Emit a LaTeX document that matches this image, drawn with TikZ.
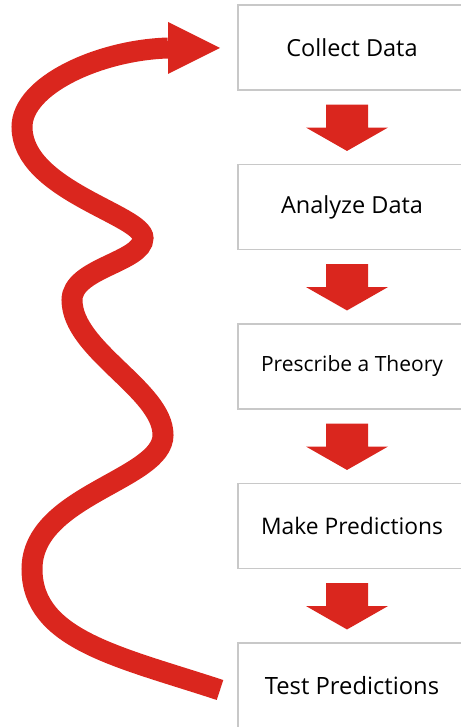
\documentclass[tikz,border=0pt]{standalone}
\usepackage{fontspec}
\setmainfont{Open Sans}
\usetikzlibrary{calc}
\definecolor{cyclered}{RGB}{218,38,30}
\definecolor{boxline}{RGB}{200,200,200}
\tikzset{
  stagebox/.style={draw=boxline, line width=1.1pt, fill=white, rectangle,
    minimum width=228pt, minimum height=85pt, inner sep=0pt,
    font=\fontsize{23.5}{26}\selectfont},
  wave/.style={draw=cyclered, line width=21pt, line cap=butt},
  redfill/.style={fill=cyclered, draw=none}
}
% a fat down arrow from #1 (top of the shaft, centre) to #2 (tip)
\newcommand\downstep[2]{%
  \fill[redfill] ($(#1)+(-21,0)$) -- ($(#1)+(21,0)$) -- ($(#1)+(21,23)$)
    -- ($(#1)+(41,23)$) -- (#2) -- ($(#1)+(-41,23)$) -- ($(#1)+(-21,23)$) -- cycle;}
\begin{document}
\begin{tikzpicture}[x=1pt,y=-1pt]
\useasboundingbox (0,0) rectangle (460,727);

% the five stages
\node[stagebox] (b1) at (352,47.5)  {Collect Data};
\node[stagebox] (b2) at (352,207)   {Analyze Data};
\node[stagebox, font=\fontsize{21}{24}\selectfont] (b3) at (352,366.5) {Prescribe a Theory};
\node[stagebox, font=\fontsize{22.8}{26}\selectfont] (b4) at (352,526)   {Make Predictions};
\node[stagebox, font=\fontsize{23.8}{26}\selectfont] (b5) at (352,685.5) {Test Predictions};

% arrows between consecutive stages
\foreach \a/\b in {b1/b2,b2/b3,b3/b4,b4/b5}{
  \coordinate (s) at ($(\a.south)+(-5,14)$);
  \coordinate (t) at ($(\b.north)+(-5,-13)$);
  \downstep{s}{t}
}

% the winding return path from testing back to collecting data
\coordinate (w0) at (220,690);
\coordinate (w1) at (32,569);
\coordinate (w2) at (163,435);
\coordinate (w3) at (72,300);
\coordinate (w4) at (143,238);
\coordinate (w5) at (22,127);
\coordinate (w6) at (168,48);
\draw[wave] (w0) .. controls (120,657) and (32,640) .. (w1)
  .. controls (32,495) and (163,480) .. (w2)
  .. controls (163,390) and (72,350) .. (w3)
  .. controls (72,268) and (143,262) .. (w4)
  .. controls (143,215) and (22,190) .. (w5)
  .. controls (22,85) and (100,50) .. (w6);
\fill[redfill] ($(w6)+(0,-26)$) -- ($(w6)+(52,0)$) -- ($(w6)+(0,26)$) -- cycle;
\end{tikzpicture}
\end{document}
